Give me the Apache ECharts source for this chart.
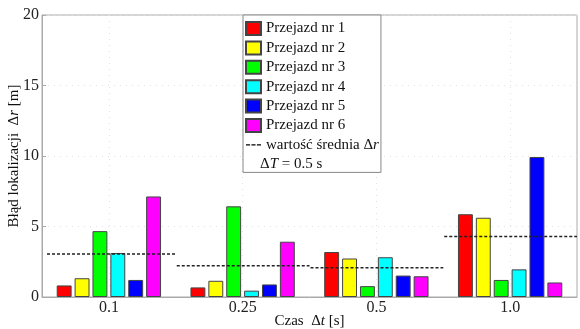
<!DOCTYPE html>
<html lang="pl">
<head>
    <meta charset="UTF-8">
    <title>Błąd lokalizacji</title>
    <script src="https://cdn.jsdelivr.net/npm/echarts@6/dist/echarts.min.js"></script>
    <style>
        body{
            margin: 0;
            background: #fff;
        }
        #chart{
            width: 580px;
            height: 329px;
        }
    </style>
</head>
<body>
<div id="chart"></div>
<script>
    // dane
    var categories = ['0.1', '0.25', '0.5', '1.0'];
    var seriesNames = ['Przejazd nr 1', 'Przejazd nr 2', 'Przejazd nr 3', 'Przejazd nr 4', 'Przejazd nr 5', 'Przejazd nr 6'];
    var run1 = [0.82, 0.68, 3.19, 5.87];
    var run2 = [1.33, 1.15, 2.73, 5.62];
    var run3 = [4.67, 6.43, 0.77, 1.21];
    var run4 = [3.12, 0.45, 2.82, 1.96];
    var run5 = [1.21, 0.89, 1.52, 9.93];
    var run6 = [7.13, 3.92, 1.47, 1.03];
    var meanValues = [3.05, 2.22, 2.08, 4.29];
    var yTicks = [0, 5, 10, 15, 20];
    var colorList = ['#ff0000', '#ffff00', '#00ff00', '#00ffff', '#0000ff', '#ff00ff'];
    var meanName = 'wartość średnia Δr';

    var font = 'Liberation Serif';
    var runs = [run1, run2, run3, run4, run5, run6];
    var italic = {i: {fontFamily: font, fontSize: 15, fontStyle: 'italic', color: '#111'}};

    var series = [];
    for (var i = 0; i < runs.length; i++) {
        series.push({
            name: seriesNames[i],
            type: 'bar',
            data: runs[i],
            barGap: '20%',
            barCategoryGap: '22%',
            itemStyle: {color: colorList[i], borderColor: '#444', borderWidth: 1}
        });
    }
    // linie przerywane - wartość średnia
    series.push({
        name: meanName,
        type: 'custom',
        itemStyle: {color: '#000'},
        data: meanValues.map(function (v, k) { return [k, v]; }),
        z: 5,
        renderItem: function (params, api) {
            var c = api.coord([api.value(0), api.value(1)]);
            var w = api.size([1, 0])[0];
            var x1 = c[0] - w / 2 + (api.value(0) === 0 ? 5 : 1);
            return {
                type: 'line',
                shape: {x1: x1, y1: c[1], x2: c[0] + w / 2, y2: c[1]},
                style: {stroke: '#222', lineWidth: 1.5, lineDash: [3, 2]}
            };
        }
    });

    var legendData = seriesNames.map(function (n) { return {name: n, icon: 'rect'}; });
    legendData.push({name: meanName, icon: 'path://M0,0h3v1h-3zM4,0h3v1h-3zM8,0h3v1h-3z'});

    var myChart = echarts.init(document.getElementById('chart'));
    myChart.setOption({
        animation: false,
        textStyle: {fontFamily: font},
        grid: {
            left: 42, right: 3, top: 15, bottom: 32,
            outerBoundsMode: 'none', containLabel: false,
            show: true, borderColor: '#aaa', borderWidth: 1
        },
        legend: {
            orient: 'vertical',
            left: 243,
            top: 15,
            padding: [6, 2, 20, 2],
            itemWidth: 15,
            itemHeight: 13,
            itemGap: 4.4,
            backgroundColor: '#fff',
            borderColor: '#888',
            borderWidth: 1,
            borderRadius: 0,
            data: legendData,
            formatter: function (name) {
                if (name === meanName) return 'wartość średnia Δ{i|r}';
                return name;
            },
            textStyle: {fontFamily: font, fontSize: 15, color: '#111', rich: italic}
        },
        graphic: [{
            type: 'text',
            left: 260,
            top: 157,
            z: 100,
            style: {
                text: 'Δ{i|T} = 0.5 s',
                font: '15px "Liberation Serif"',
                fill: '#111',
                rich: italic
            }
        }],
        xAxis: {
            type: 'category',
            data: categories,
            name: 'Czas  Δ{i|t} [s]',
            nameLocation: 'middle',
            nameGap: 17,
            nameMoveOverlap: false,
            nameTextStyle: {fontFamily: font, fontSize: 15, color: '#111', rich: italic},
            axisLine: {lineStyle: {color: '#aaa'}},
            axisTick: {alignWithLabel: true, inside: true, length: 4, lineStyle: {color: '#aaa'}},
            axisLabel: {fontFamily: font, fontSize: 16, color: '#222', margin: 3},
            splitLine: {show: true, alignWithLabel: true, lineStyle: {color: '#e2e2e2', type: [1, 5]}}
        },
        yAxis: {
            type: 'value',
            min: yTicks[0],
            max: yTicks[yTicks.length - 1],
            interval: yTicks[1] - yTicks[0],
            name: 'Błąd lokalizacji  Δ{i|r} [m]',
            nameLocation: 'middle',
            nameGap: 20,
            nameMoveOverlap: false,
            nameTextStyle: {fontFamily: font, fontSize: 15, color: '#111', rich: italic},
            axisLine: {show: true, lineStyle: {color: '#aaa'}},
            axisTick: {show: true, inside: true, length: 4, lineStyle: {color: '#aaa'}},
            axisLabel: {fontFamily: font, fontSize: 16, color: '#222', margin: 3},
            splitLine: {show: true, lineStyle: {color: '#e2e2e2', type: [1, 5]}}
        },
        series: series
    });
</script>
</body>
</html>
